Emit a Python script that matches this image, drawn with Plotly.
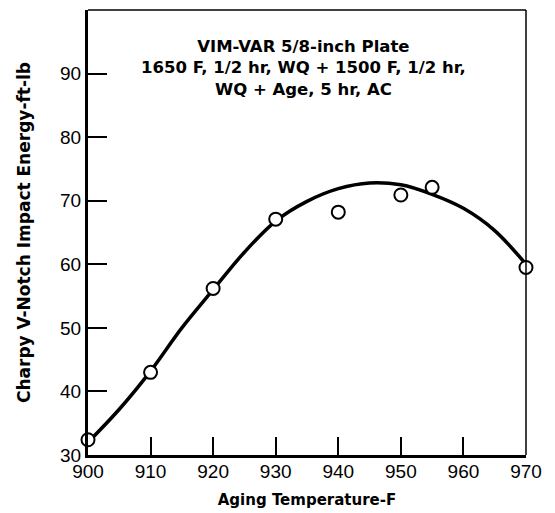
import plotly.graph_objects as go

# Measured points
temp_pts = [900, 910, 920, 930, 940, 950, 955, 970]
energy_pts = [32.4, 43.0, 56.2, 67.1, 68.2, 70.9, 72.1, 59.5]

# Fitted curve
temp_curve = [900, 905, 910, 915, 920, 925, 930, 935, 940, 945, 950, 955, 960, 965, 970]
energy_curve = [32.0, 37.2, 43.2, 50.0, 56.0, 61.9, 66.8, 69.9, 71.9, 72.8, 72.5, 71.0, 68.8, 65.3, 60.0]

x_ticks = [900, 910, 920, 930, 940, 950, 960, 970]
y_ticks = [30, 40, 50, 60, 70, 80, 90]

note = "VIM-VAR 5/8-inch Plate<br>1650 F, 1/2 hr, WQ + 1500 F, 1/2 hr,<br>WQ + Age, 5 hr, AC"

bold_font = "DejaVu Sans, Liberation Sans, Arial, sans-serif"

fig = go.Figure()
fig.add_trace(go.Scatter(x=temp_curve, y=energy_curve, mode="lines",
                         line=dict(color="black", width=3.5, shape="spline", smoothing=1.0),
                         hoverinfo="skip", showlegend=False))
fig.add_trace(go.Scatter(x=temp_pts, y=energy_pts, mode="markers",
                         marker=dict(symbol="circle", size=13, color="white",
                                     line=dict(color="black", width=2)),
                         cliponaxis=False, showlegend=False))

fig.update_layout(
    width=555, height=513,
    margin=dict(l=88, r=29, t=10, b=58),
    paper_bgcolor="white", plot_bgcolor="white",
    font=dict(family="Liberation Sans, Arial, sans-serif", color="black"),
    xaxis=dict(range=[900, 970], tickvals=x_ticks, ticks="inside", ticklen=18,
               tickwidth=2, tickcolor="black", showline=True, linewidth=3,
               linecolor="black", showgrid=False, zeroline=False, automargin=False,
               tickfont=dict(size=19), ticklabelstandoff=-3,
               title=dict(text="<b>Aging Temperature-F</b>",
                          font=dict(size=15, family=bold_font), standoff=14)),
    yaxis=dict(range=[30, 100], tickvals=y_ticks, ticks="inside", ticklen=19,
               tickwidth=2, tickcolor="black", showline=True, linewidth=3,
               linecolor="black", showgrid=False, zeroline=False, automargin=False,
               tickfont=dict(size=19),
               title=dict(text="<b>Charpy V-Notch Impact Energy-ft-lb</b>",
                          font=dict(size=17, family=bold_font), standoff=26)),
    shapes=[
        dict(type="line", xref="paper", yref="paper", x0=0, x1=1, y0=1, y1=1,
             line=dict(color="black", width=1.5)),
        dict(type="line", xref="paper", yref="paper", x0=1, x1=1, y0=0, y1=1,
             line=dict(color="black", width=1.5)),
    ],
    annotations=[dict(x=934.5, y=90.8, xref="x", yref="y", text="<b>" + note + "</b>",
                      showarrow=False, align="center",
                      font=dict(size=16.5, family=bold_font))],
)

fig.write_html("out.html")
